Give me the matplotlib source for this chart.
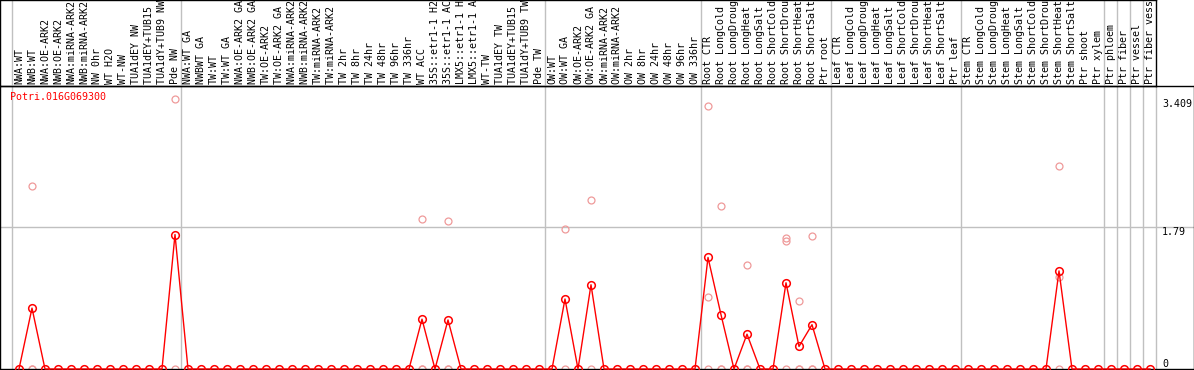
import numpy as np
import matplotlib
matplotlib.use('Agg')
import matplotlib.pyplot as plt

gene = 'Potri.016G069300'

samples = [
    # NW
    'NWA:WT', 'NWB:WT', 'NWA:OE-ARK2', 'NWB:OE-ARK2', 'NWA:miRNA-ARK2', 'NWB:miRNA-ARK2',
    'NW 0hr', 'WT H2O', 'WT-NW', 'TUA1dEY NW', 'TUA1dEY+TUB15 NW', 'TUA1dY+TUB9 NW', 'Pde NW',
    # TW
    'NWA:WT GA', 'NWBWT GA', 'TW:WT', 'TW:WT GA', 'NWA:OE-ARK2 GA', 'NWB:OE-ARK2 GA',
    'TW:OE-ARK2', 'TW:OE-ARK2 GA', 'NWA:miRNA-ARK2 GA', 'NWB:miRNA-ARK2 GA', 'TW:miRNA-ARK2',
    'TW:miRNA-ARK2 GA', 'TW 2hr', 'TW 8hr', 'TW 24hr', 'TW 48hr', 'TW 96hr', 'TW 336hr',
    'WT ACC', '35S::etr1-1 H2O', '35S::etr1-1 ACC', 'LMX5::etr1-1 H2O', 'LMX5::etr1-1 ACC',
    'WT-TW', 'TUA1dEY TW', 'TUA1dEY+TUB15 TW', 'TUA1dY+TUB9 TW', 'Pde TW',
    # OW
    'OW:WT', 'OW:WT GA', 'OW:OE-ARK2', 'OW:OE-ARK2 GA', 'OW:miRNA-ARK2', 'OW:miRNA-ARK2 GA',
    'OW 2hr', 'OW 8hr', 'OW 24hr', 'OW 48hr', 'OW 96hr', 'OW 336hr',
    # root
    'Root CTR', 'Root LongCold', 'Root LongDrought', 'Root LongHeat', 'Root LongSalt',
    'Root ShortCold', 'Root ShortDrought', 'Root ShortHeat', 'Root ShortSalt', 'Ptr root',
    # leaf
    'Leaf CTR', 'Leaf LongCold', 'Leaf LongDrought', 'Leaf LongHeat', 'Leaf LongSalt',
    'Leaf ShortCold', 'Leaf ShortDrought', 'Leaf ShortHeat', 'Leaf ShortSalt', 'Ptr leaf',
    # stem
    'Stem CTR', 'Stem LongCold', 'Stem LongDrought', 'Stem LongHeat', 'Stem LongSalt',
    'Stem ShortCold', 'Stem ShortDrought', 'Stem ShortHeat', 'Stem ShortSalt', 'Ptr shoot',
    'Ptr xylem',
    'Ptr phloem', 'Ptr fiber', 'Ptr vessel', 'Ptr fiber vessel',
]
group_sizes = [13, 28, 12, 10, 10, 11, 1, 1, 1, 1]

# mean expression (red line), zero unless listed
mean_samples = ['NWB:WT', 'Pde NW', 'WT ACC', '35S::etr1-1 ACC', 'OW:WT GA', 'OW:OE-ARK2 GA',
                'Root CTR', 'Root LongCold', 'Root LongHeat', 'Root ShortDrought',
                'Root ShortHeat', 'Root ShortSalt', 'Stem ShortHeat']
mean_values = [0.77, 1.70, 0.63, 0.62, 0.885, 1.065,
               1.41, 0.686, 0.44, 1.09,
               0.285, 0.56, 1.24]

# individual replicates (faint circles)
rep_samples = ['NWB:WT', 'NWB:WT', 'NWB:WT', 'Pde NW', 'Pde NW',
               'WT ACC', 'WT ACC', 'WT ACC', '35S::etr1-1 ACC', '35S::etr1-1 ACC', '35S::etr1-1 ACC',
               'OW:WT GA', 'OW:WT GA', 'OW:OE-ARK2 GA', 'OW:OE-ARK2 GA',
               'Root CTR', 'Root CTR', 'Root CTR', 'Root LongCold', 'Root LongCold', 'Root LongCold',
               'Root LongHeat', 'Root LongHeat', 'Root LongHeat',
               'Root ShortDrought', 'Root ShortDrought', 'Root ShortDrought',
               'Root ShortHeat', 'Root ShortHeat', 'Root ShortHeat',
               'Root ShortSalt', 'Root ShortSalt', 'Root ShortSalt',
               'Stem ShortHeat', 'Stem ShortHeat', 'Stem ShortHeat']
rep_values = [2.31, 0, 0, 3.409, 0,
              1.89, 0, 0, 1.867, 0, 0,
              1.77, 0, 2.13, 0,
              3.33, 0.906, 0, 2.06, 0, 0,
              1.32, 0, 0,
              1.66, 1.62, 0,
              0.856, 0, 0,
              1.68, 0, 0,
              2.56, 1.16, 0]

yticks = [0, 1.79, 3.409]
ytick_labels = ['0', '1.79', '3.409']

W, H = 1194, 370
step, x0 = 13.0, 19.0          # px between samples, px of first sample
px_per_unit = 79.11

x = np.arange(len(samples))
means = np.zeros(len(samples))
for s, v in zip(mean_samples, mean_values):
    means[samples.index(s)] = v
rep_x = [samples.index(s) for s in rep_samples]

bounds = [-0.56] + [c - 0.56 for c in np.cumsum(group_sizes)]

mono = 'DejaVu Sans Mono'
fs = 7.2
grey = '#c0c0c0'

fig = plt.figure(figsize=(W / 100, H / 100), dpi=100)

# plot area
ax = fig.add_axes([0, 1 / H, 1, 283 / H])
ax.set_xlim(-x0 / step, (W - x0) / step)
ax.set_ylim(0, 283 / px_per_unit)
ax.set_xticks([])
ax.set_yticks([])
for sp in ax.spines.values():
    sp.set_color('black')
    sp.set_linewidth(1.0)
for b in bounds:
    ax.axvline(b, color=grey, lw=1.0, zorder=1)
ax.axhline(1.79, color=grey, lw=1.0, zorder=1)

ax.plot(rep_x, rep_values, 'o', ms=5, mfc='none', mec='#ef9a9a', mew=0.9,
        clip_on=False, zorder=2)
ax.plot(x, means, '-', color='red', lw=1.0, zorder=3, clip_on=False)
ax.plot(x, means, 'o', ms=5.5, mfc='none', mec='red', mew=1.1, zorder=4, clip_on=False)

for v, t in zip(yticks, ytick_labels):
    ax.text((1162 - x0) / step, v, t, family=mono, fontsize=fs,
            va='bottom' if v == 0 else 'top', ha='left')

fig.text(10 / W, 1 - 97 / H, gene, family=mono, fontsize=fs, color='red',
         va='center', ha='left')

# label strip
lab = fig.add_axes([0, 284 / H, 1156 / W, 86 / H])
lab.set_xlim(-x0 / step, (1156 - x0) / step)
lab.set_ylim(0, 1)
lab.set_xticks([])
lab.set_yticks([])
lab.patch.set_alpha(0)
for sp in lab.spines.values():
    sp.set_color('black')
    sp.set_linewidth(1.0)
for b in bounds[:-1]:
    lab.axvline(b, color=grey, lw=1.0, zorder=1)
for i, s in enumerate(samples):
    lab.text(i, 2 / 86, s, rotation=90, family=mono, fontsize=fs,
             ha='center', va='bottom', clip_on=True)

fig.savefig('out.png', dpi=100)
